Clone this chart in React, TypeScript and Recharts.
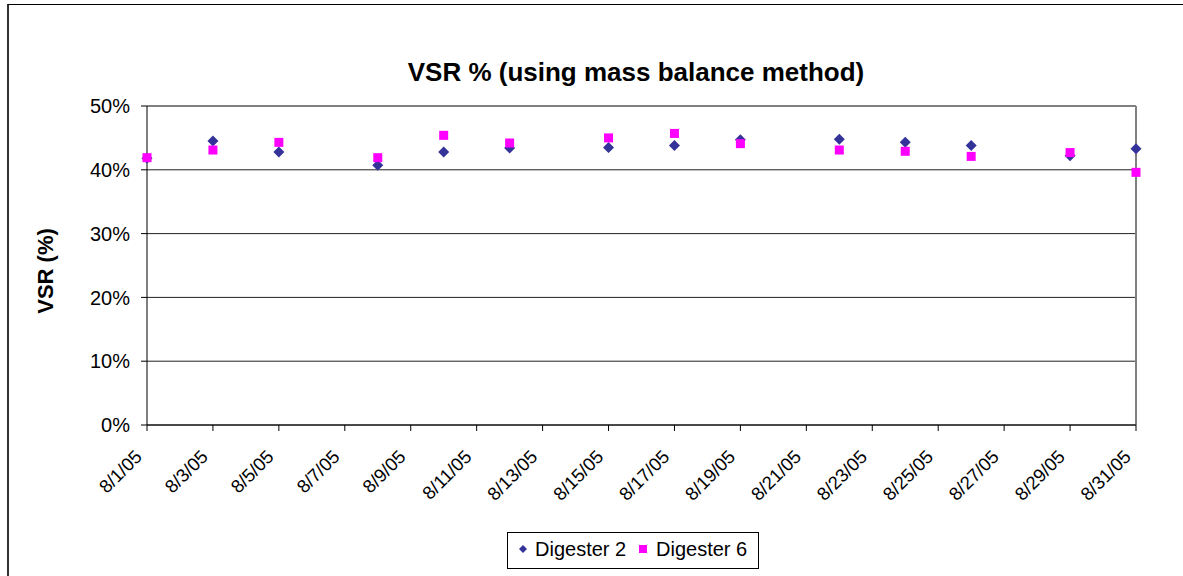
import {
  ScatterChart,
  Scatter,
  XAxis,
  YAxis,
  CartesianGrid,
  ReferenceLine,
} from 'recharts';

// day of month (August 2005) for each sample
const days = [1, 3, 5, 8, 10, 12, 15, 17, 19, 22, 24, 26, 29, 31];
const digester2 = [41.8, 44.5, 42.8, 40.7, 42.8, 43.4, 43.5, 43.8, 44.7, 44.8, 44.3, 43.8, 42.2, 43.3];
const digester6 = [41.9, 43.1, 44.3, 41.9, 45.4, 44.2, 45.0, 45.7, 44.1, 43.1, 42.9, 42.1, 42.7, 39.6];
const seriesNames = ['Digester 2', 'Digester 6'];
const xTicks = [1, 3, 5, 7, 9, 11, 13, 15, 17, 19, 21, 23, 25, 27, 29, 31];
const yTicks = [0, 10, 20, 30, 40, 50];
const title = 'VSR % (using mass balance method)';
const yTitle = 'VSR (%)';

const FONT = '"Liberation Sans", Arial, sans-serif';
const NAVY = '#333399';
const PINK = '#FF00FF';

const d2Data = days.map((day, i) => ({ day, v: digester2[i] }));
const d6Data = days.map((day, i) => ({ day, v: digester6[i] }));

function DiamondShape(props: any) {
  const { cx, cy } = props;
  const r = 5.5;
  return (
    <polygon
      points={`${cx},${cy - r} ${cx + r},${cy} ${cx},${cy + r} ${cx - r},${cy}`}
      fill={NAVY}
    />
  );
}

function SquareShape(props: any) {
  const { cx, cy } = props;
  const s = 9;
  return <rect x={cx - s / 2} y={cy - s / 2} width={s} height={s} fill={PINK} />;
}

function XTick(props: any) {
  const { x, y, payload } = props;
  return (
    <g transform={`translate(${x - 4},${y + 27})`}>
      <text
        x={0}
        y={0}
        textAnchor="end"
        transform="rotate(-45)"
        fontSize={18.5}
        fontFamily={FONT}
        fill="#000"
      >
        {`8/${payload.value}/05`}
      </text>
    </g>
  );
}

export default function App() {
  return (
    <div
      style={{
        position: 'fixed',
        left: 0,
        top: 0,
        width: 1183,
        height: 576,
        overflow: 'hidden',
        background: '#fff',
      }}
    >
      <div
        style={{
          position: 'absolute',
          left: 7,
          top: 4,
          width: 1300,
          height: 700,
          borderLeft: '2px solid #333',
          borderTop: '1px solid #000',
        }}
      />
      <div style={{ position: 'absolute', left: 0, top: 0 }}>
        <ScatterChart
          width={1183}
          height={576}
          margin={{ top: 106, right: 47, bottom: 0, left: 0 }}
        >
          <CartesianGrid vertical={false} stroke="#222" strokeWidth={1} />
          <XAxis
            type="number"
            dataKey="day"
            domain={[1, 31]}
            ticks={xTicks}
            interval={0}
            height={151}
            tickSize={6}
            tickMargin={0}
            axisLine={{ stroke: '#000' }}
            tickLine={{ stroke: '#000' }}
            tick={<XTick />}
          />
          <YAxis
            type="number"
            dataKey="v"
            domain={[0, 50]}
            ticks={yTicks}
            interval={0}
            width={147}
            tickSize={6}
            tickMargin={11}
            tickFormatter={(v: number) => `${v}%`}
            axisLine={{ stroke: '#000' }}
            tickLine={{ stroke: '#000' }}
            tick={{ fontSize: 20, fontFamily: FONT, fill: '#000' }}
          />
          <ReferenceLine y={50} stroke="#808080" strokeWidth={2} />
          <ReferenceLine x={31} stroke="#808080" strokeWidth={2} />
          <Scatter
            name={seriesNames[0]}
            data={d2Data}
            shape={(p: any) => <DiamondShape {...p} />}
            isAnimationActive={false}
          />
          <Scatter
            name={seriesNames[1]}
            data={d6Data}
            shape={(p: any) => <SquareShape {...p} />}
            isAnimationActive={false}
          />
        </ScatterChart>
      </div>
      <svg
        width={1183}
        height={576}
        style={{ position: 'absolute', left: 0, top: 0, pointerEvents: 'none' }}
      >
        <text
          x={636}
          y={81}
          textAnchor="middle"
          fontSize={26}
          fontWeight="bold"
          fontFamily={FONT}
          fill="#000"
        >
          {title}
        </text>
        <text
          transform="translate(53,271) rotate(-90)"
          textAnchor="middle"
          fontSize={22}
          fontWeight="bold"
          fontFamily={FONT}
          fill="#000"
        >
          {yTitle}
        </text>
        <rect x={507.5} y={532.5} width={251} height={36} fill="#fff" stroke="#000" />
        <polygon points="523,545 527,549 523,553 519,549" fill={NAVY} />
        <text x={535} y={556} fontSize={20} fontFamily={FONT} fill="#000">
          {seriesNames[0]}
        </text>
        <rect x={639} y={545} width={8} height={8} fill={PINK} />
        <text x={656} y={556} fontSize={20} fontFamily={FONT} fill="#000">
          {seriesNames[1]}
        </text>
      </svg>
    </div>
  );
}
